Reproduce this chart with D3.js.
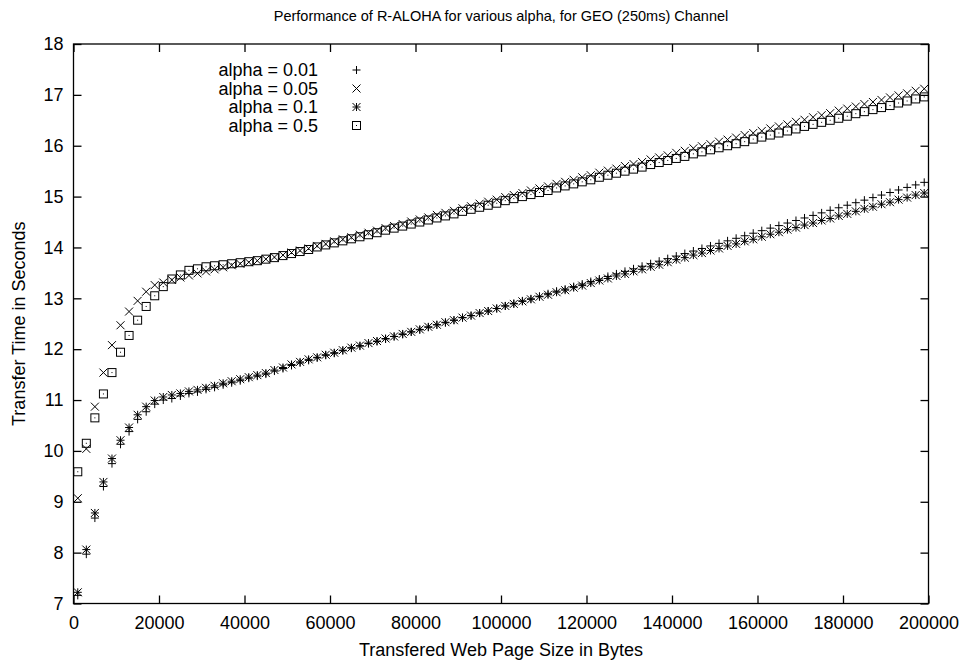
<!DOCTYPE html>
<html>
<head>
<meta charset="utf-8">
<script src="https://cdn.jsdelivr.net/npm/d3@7"></script>
<style>
html,body{margin:0;padding:0;background:#fff;}
svg{display:block;font-family:"Liberation Sans",Arial,Helvetica,sans-serif;}
</style>
</head>
<body>
<svg id="chart" width="966" height="666"></svg>
<script>
// page sizes in bytes (x values)
const pageSizes = [1000,3000,5000,7000,9000,11000,13000,15000,17000,19000,21000,23000,25000,27000,29000,31000,33000,35000,37000,39000,41000,43000,45000,47000,49000,51000,53000,55000,57000,59000,61000,63000,65000,67000,69000,71000,73000,75000,77000,79000,81000,83000,85000,87000,89000,91000,93000,95000,97000,99000,101000,103000,105000,107000,109000,111000,113000,115000,117000,119000,121000,123000,125000,127000,129000,131000,133000,135000,137000,139000,141000,143000,145000,147000,149000,151000,153000,155000,157000,159000,161000,163000,165000,167000,169000,171000,173000,175000,177000,179000,181000,183000,185000,187000,189000,191000,193000,195000,197000,199000];

const alpha001 = [7.16,7.97,8.68,9.30,9.75,10.13,10.38,10.62,10.77,10.92,11.00,11.03,11.08,11.13,11.16,11.21,11.25,11.30,11.34,11.38,11.43,11.47,11.51,11.57,11.62,11.68,11.73,11.78,11.83,11.88,11.92,11.97,12.02,12.06,12.11,12.15,12.20,12.25,12.29,12.34,12.38,12.43,12.48,12.52,12.57,12.62,12.66,12.71,12.75,12.80,12.85,12.90,12.95,12.99,13.04,13.09,13.14,13.18,13.23,13.28,13.33,13.38,13.43,13.48,13.53,13.58,13.63,13.68,13.73,13.78,13.83,13.88,13.93,13.98,14.03,14.08,14.13,14.18,14.23,14.28,14.33,14.38,14.43,14.48,14.53,14.58,14.63,14.68,14.73,14.78,14.83,14.88,14.93,14.98,15.03,15.08,15.13,15.18,15.23,15.28];

const alpha005 = [9.07,10.04,10.87,11.54,12.08,12.47,12.74,12.95,13.13,13.26,13.31,13.36,13.41,13.45,13.49,13.53,13.57,13.61,13.65,13.68,13.71,13.74,13.77,13.81,13.85,13.90,13.94,13.98,14.03,14.07,14.12,14.16,14.20,14.25,14.29,14.33,14.38,14.42,14.46,14.51,14.55,14.59,14.64,14.68,14.72,14.77,14.81,14.86,14.90,14.94,14.99,15.03,15.07,15.12,15.16,15.20,15.25,15.29,15.33,15.38,15.42,15.47,15.51,15.55,15.60,15.64,15.68,15.73,15.77,15.81,15.86,15.90,15.95,15.99,16.03,16.08,16.12,16.16,16.21,16.25,16.29,16.34,16.38,16.42,16.47,16.51,16.56,16.60,16.64,16.69,16.73,16.77,16.82,16.86,16.90,16.95,16.99,17.03,17.08,17.12];

const alpha01 = [7.22,8.06,8.78,9.39,9.85,10.21,10.46,10.71,10.87,10.99,11.06,11.10,11.13,11.17,11.20,11.24,11.28,11.33,11.37,11.41,11.45,11.49,11.53,11.59,11.64,11.70,11.75,11.80,11.84,11.89,11.93,11.98,12.03,12.07,12.12,12.16,12.21,12.25,12.30,12.34,12.39,12.44,12.48,12.53,12.57,12.62,12.66,12.71,12.75,12.80,12.85,12.89,12.94,12.98,13.03,13.07,13.12,13.16,13.21,13.25,13.30,13.35,13.39,13.44,13.48,13.53,13.57,13.62,13.66,13.71,13.76,13.80,13.85,13.89,13.94,13.98,14.03,14.07,14.12,14.16,14.21,14.26,14.30,14.35,14.39,14.44,14.48,14.53,14.57,14.62,14.66,14.71,14.76,14.80,14.85,14.89,14.94,14.98,15.03,15.07];

const alpha05 = [9.59,10.15,10.65,11.12,11.54,11.94,12.27,12.57,12.84,13.05,13.23,13.38,13.46,13.55,13.58,13.62,13.64,13.66,13.68,13.70,13.72,13.74,13.77,13.80,13.84,13.88,13.92,13.96,14.01,14.05,14.09,14.13,14.17,14.21,14.25,14.29,14.34,14.38,14.42,14.46,14.50,14.54,14.58,14.62,14.66,14.71,14.75,14.79,14.83,14.87,14.92,14.96,15.00,15.04,15.08,15.12,15.17,15.21,15.25,15.29,15.33,15.38,15.42,15.46,15.50,15.54,15.58,15.63,15.67,15.71,15.75,15.79,15.84,15.88,15.92,15.96,16.00,16.04,16.08,16.13,16.17,16.21,16.25,16.29,16.33,16.38,16.42,16.46,16.50,16.54,16.58,16.63,16.67,16.71,16.75,16.79,16.84,16.88,16.92,16.96];

const seriesNames = ["alpha = 0.01","alpha = 0.05","alpha = 0.1","alpha = 0.5"];
const seriesMarkers = ["plus","cross","star","box"];
const xTicks = [0,20000,40000,60000,80000,100000,120000,140000,160000,180000,200000];
const yTicks = [7,8,9,10,11,12,13,14,15,16,17,18];

const titleText = "Performance of R-ALOHA for various alpha, for GEO (250ms) Channel";
const xLabel = "Transfered Web Page Size in Bytes";
const yLabel = "Transfer Time in Seconds";

const seriesValues = [alpha001, alpha005, alpha01, alpha05];

const svg = d3.select("#chart");
const L = 73.5, R = 928.5, T = 44, B = 603.5;
const x = d3.scaleLinear().domain([0,200000]).range([L,R]);
const y = d3.scaleLinear().domain([7,18]).range([B,T]);
const FS = 18;

// border
svg.append("rect").attr("x",L).attr("y",T).attr("width",R-L).attr("height",B-T)
  .attr("fill","none").attr("stroke","#000").attr("stroke-width",1.3);

const tl = 8;
const gx = svg.append("g").attr("transform",`translate(0,${B})`)
  .call(d3.axisBottom(x).tickValues(xTicks).tickFormat(d3.format("d")).tickSize(-tl).tickPadding(13));
const gxt = svg.append("g").attr("transform",`translate(0,${T})`)
  .call(d3.axisTop(x).tickValues(xTicks).tickFormat("").tickSize(-tl));
const gy = svg.append("g").attr("transform",`translate(${L},0)`)
  .call(d3.axisLeft(y).tickValues(yTicks).tickFormat(d3.format("d")).tickSize(-tl).tickPadding(10));
const gyr = svg.append("g").attr("transform",`translate(${R},0)`)
  .call(d3.axisRight(y).tickValues(yTicks).tickFormat("").tickSize(-tl));

[gx,gxt,gy,gyr].forEach(g=>{
  g.select(".domain").remove();
  g.selectAll(".tick line").attr("stroke","#000").attr("stroke-width",1.3);
  g.selectAll(".tick text").attr("fill","#000").style("font-size",FS+"px")
   .style("font-family",'"Liberation Sans",Arial,sans-serif');
});

const s = 4;
function drawMarker(g, type, cx, cy){
  const line = (x1,y1,x2,y2)=>g.append("line").attr("x1",x1).attr("y1",y1).attr("x2",x2).attr("y2",y2)
     .attr("stroke","#000").attr("stroke-width",1);
  if(type==="plus"){
    line(cx-s,cy,cx+s,cy); line(cx,cy-s,cx,cy+s);
  } else if(type==="cross"){
    line(cx-s,cy-s,cx+s,cy+s); line(cx-s,cy+s,cx+s,cy-s);
  } else if(type==="star"){
    line(cx-s,cy,cx+s,cy); line(cx,cy-s,cx,cy+s);
    line(cx-s,cy-s,cx+s,cy+s); line(cx-s,cy+s,cx+s,cy-s);
  } else if(type==="box"){
    g.append("rect").attr("x",cx-s).attr("y",cy-s).attr("width",2*s).attr("height",2*s)
      .attr("fill","none").attr("stroke","#000").attr("stroke-width",1);
    g.append("rect").attr("x",cx-0.5).attr("y",cy-0.5).attr("width",1).attr("height",1).attr("fill","#000");
  }
}

const plot = svg.append("g");
seriesValues.forEach((vals,k)=>{
  const g = plot.append("g").attr("class","series-"+k);
  vals.forEach((v,i)=>{
    drawMarker(g, seriesMarkers[k], x(pageSizes[i]), y(v));
  });
});

// legend
const leg = svg.append("g");
seriesNames.forEach((name,k)=>{
  const cy = 70 + k*18.5;
  leg.append("text").attr("x",318).attr("y",cy).attr("dy","0.35em").attr("text-anchor","end")
    .style("font-size",FS+"px").text(name);
  drawMarker(leg, seriesMarkers[k], 356.5, cy);
});

// title & labels
svg.append("text").attr("x",(L+R)/2).attr("y",21).attr("text-anchor","middle")
  .style("font-size","14.5px").text(titleText);
svg.append("text").attr("x",(L+R)/2).attr("y",656).attr("text-anchor","middle")
  .style("font-size",FS+"px").text(xLabel);
svg.append("text").attr("transform",`translate(25,${(T+B)/2}) rotate(-90)`).attr("text-anchor","middle")
  .style("font-size",FS+"px").text(yLabel);
</script>
</body>
</html>
